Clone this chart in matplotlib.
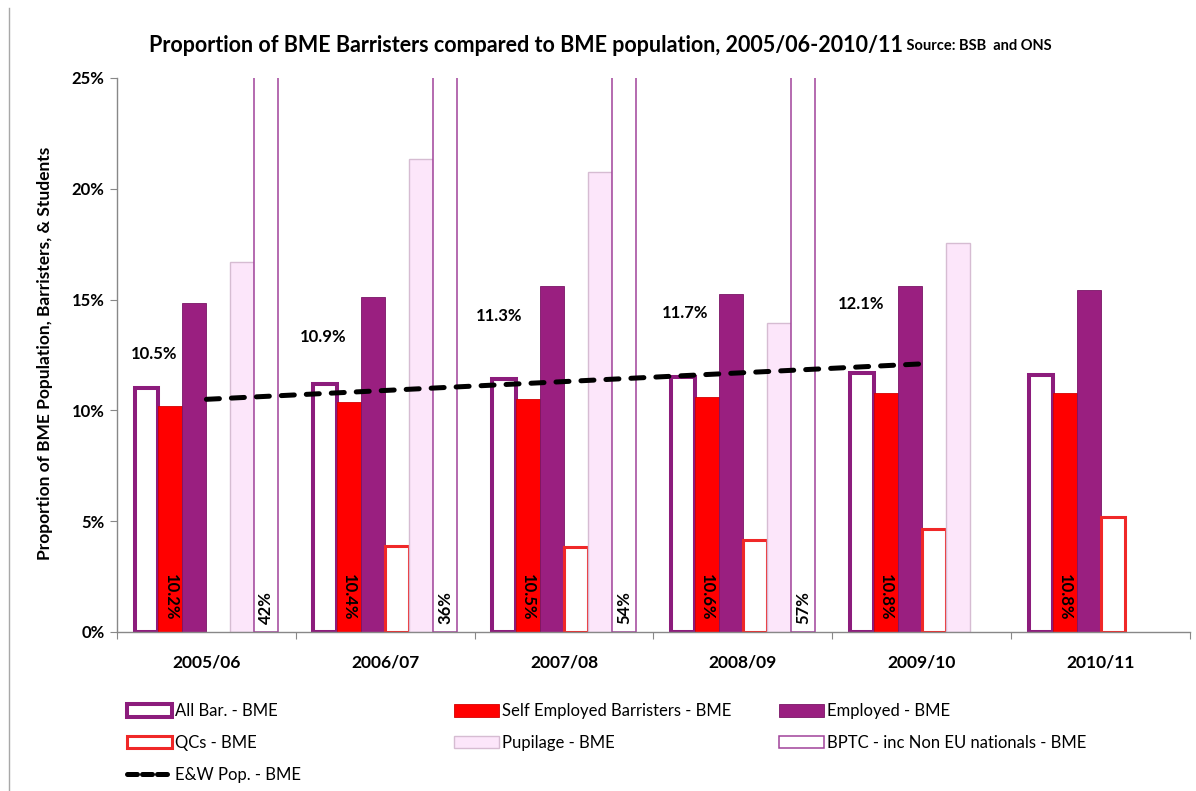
import numpy as np
import matplotlib
matplotlib.use("Agg")
import matplotlib.pyplot as plt
from matplotlib.patches import Patch
from matplotlib.lines import Line2D

plt.rcParams['font.family'] = ['Lato', 'DejaVu Sans']

# ---------------- data ----------------
categories = ["2005/06", "2006/07", "2007/08", "2008/09", "2009/10", "2010/11"]
all_bar = [11.0, 11.2, 11.4, 11.5, 11.7, 11.6]
self_employed = [10.2, 10.4, 10.5, 10.6, 10.8, 10.8]
employed = [14.85, 15.1, 15.6, 15.25, 15.6, 15.45]
qcs = [np.nan, 3.9, 3.85, 4.15, 4.65, 5.2]
pupilage = [16.7, 21.35, 20.75, 13.95, 17.55, np.nan]
bptc = [42, 36, 54, 57, np.nan, np.nan]
ew_pop = [10.5, 10.9, 11.3, 11.7, 12.1, np.nan]

series_labels = ["All Bar. - BME", "Self Employed Barristers - BME", "Employed - BME",
                 "QCs - BME", "Pupilage - BME", "BPTC - inc Non EU nationals - BME"]
line_label = "E&W Pop. - BME"
title_main = "Proportion of BME Barristers compared to BME population, 2005/06-2010/11"
title_source = " Source: BSB  and ONS"
y_label = "Proportion of BME Population, Barristers, & Students"
y_ticks = [0, 5, 10, 15, 20, 25]

# ---------------- styles ----------------
PURPLE = "#8C1C7C"
EMP = "#9A1F80"
RED = "#FF0000"
styles = [
    dict(facecolor="white", edgecolor=PURPLE, linewidth=2.9),
    dict(facecolor=RED, edgecolor="#D40000", linewidth=0.6),
    dict(facecolor=EMP, edgecolor="#7A1566", linewidth=0.6),
    dict(facecolor="white", edgecolor="#F02828", linewidth=2.2),
    dict(facecolor="#FCE6FA", edgecolor="#D6BCD2", linewidth=1.0),
    dict(facecolor="white", edgecolor="#A0429A", linewidth=1.1),
]

W, H, DPI = 1196, 791, 100
fig = plt.figure(figsize=(W / DPI, H / DPI), dpi=DPI)
ax = fig.add_axes([117 / W, 1 - 632 / H, (1190 - 117) / W, (632 - 78) / H])

x = np.arange(len(categories))
bw = 0.134
series = [all_bar, self_employed, employed, qcs, pupilage, bptc]
for i, (vals, st) in enumerate(zip(series, styles)):
    ax.bar(x + (i - 2.5) * bw, vals, width=bw, zorder=2, **st)

# E&W population dashed line
ax.plot(x, ew_pop, color="black", lw=3.6, dashes=(2.6, 2.4),
        dash_capstyle="round", zorder=5)

# line data labels
label_offsets_px = [(-52, 45), (-62, 53), (-65, 66), (-58, 60), (-61, 60)]
for xi, v, (dx, dy) in zip(x, ew_pop, label_offsets_px):
    if np.isnan(v):
        continue
    ax.annotate(f"{v:.1f}%", (xi, v), xytext=(dx * 0.72, dy * 0.72),
                textcoords="offset points", ha="center", va="center",
                fontsize=12, fontweight="bold", color="black", zorder=6)

# self-employed labels (rotated 270, inside red bar at bottom)
for xi, v in zip(x, self_employed):
    ax.annotate(f"{v:.1f}%", (xi - 1.5 * bw, 0), xytext=(0, 8),
                textcoords="offset points", rotation=270, ha="center", va="bottom",
                fontsize=12, fontweight="bold", color="black", zorder=6)

# BPTC labels (rotated 90, at bottom of bar)
for xi, v in zip(x, bptc):
    if np.isnan(v):
        continue
    ax.annotate(f"{v:.0f}%", (xi + 2.5 * bw, 0), xytext=(0, 6),
                textcoords="offset points", rotation=90, ha="center", va="bottom",
                fontsize=12, fontweight="bold", color="black", zorder=6)

ax.set_ylim(0, 25)
ax.set_xlim(-0.5, len(categories) - 0.5)
ax.set_yticks(y_ticks)
ax.set_yticklabels([f"{t}%" for t in y_ticks], fontsize=12, fontweight="bold")
ax.set_xticks(np.arange(-0.5, len(categories), 1.0))
ax.set_xticklabels([])
ax.set_xticks(x, minor=True)
ax.set_xticklabels(categories, minor=True, fontsize=12.5, fontweight="bold")
ax.tick_params(axis="x", which="minor", length=0, pad=16)
ax.tick_params(axis="x", which="major", length=5, color="#888888", direction="out")
ax.tick_params(axis="y", length=5, color="#888888", direction="out", pad=4)
for s in ["top", "right"]:
    ax.spines[s].set_visible(False)
for s in ["left", "bottom"]:
    ax.spines[s].set_color("#888888")
    ax.spines[s].set_linewidth(1.0)

fig.text(45 / W, 1 - 353 / H, y_label, rotation=90, ha="center", va="center",
         fontsize=12.5, fontweight="bold")

# title
t1 = fig.text(149 / W, 1 - 45 / H, title_main, ha="left", va="center",
              fontsize=15.5, fontweight="bold")
fig.canvas.draw()
r = fig.canvas.get_renderer()
bb = t1.get_window_extent(r)
fig.text(bb.x1 / W, 1 - 46 / H, title_source, ha="left", va="center",
         fontsize=10.5, fontweight="bold")

# chart border line on the left
fig.add_artist(Line2D([9 / W, 9 / W], [0, 1 - 8 / H], color="#A8A8A8", lw=1.0))

# legends (three columns)
handles = [Patch(label=l, **st) for l, st in zip(series_labels, styles)]
line_handle = Line2D([], [], color="black", lw=3.6, dashes=(2.0, 1.0),
                     dash_capstyle="round", label=line_label)
leg_kw = dict(frameon=False, fontsize=12, handlelength=2.7, handleheight=0.8,
              handletextpad=0.2, labelspacing=0.95, borderaxespad=0, borderpad=0,
              loc="upper left")
cols = [([handles[0], handles[3], line_handle], 127),
        ([handles[1], handles[4]], 454),
        ([handles[2], handles[5]], 779)]
for hs, px in cols:
    fig.legend(handles=hs, bbox_to_anchor=(px / W, 1 - 703 / H), **leg_kw)

fig.savefig("out.png", dpi=DPI)
